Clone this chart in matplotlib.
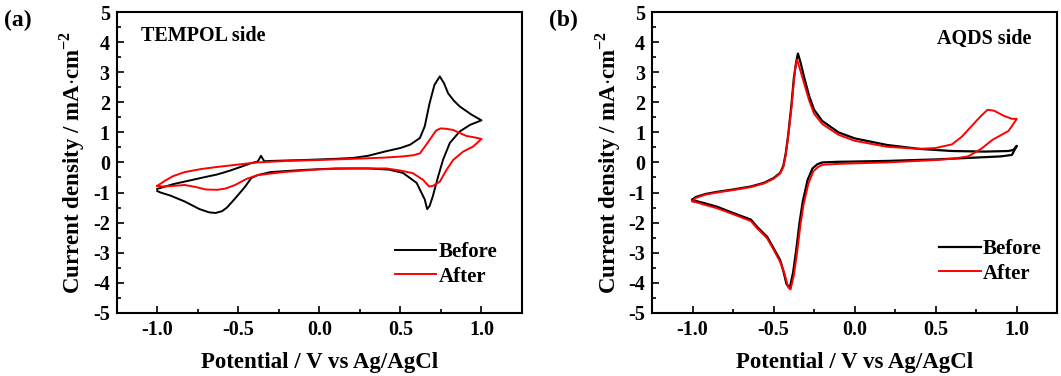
import numpy as np
import matplotlib
matplotlib.use('Agg')
import matplotlib.pyplot as plt
from matplotlib.ticker import MultipleLocator

plt.rcParams['font.family'] = 'Liberation Serif'
plt.rcParams['font.weight'] = 'bold'
plt.rcParams['mathtext.fontset'] = 'custom'
plt.rcParams['mathtext.rm'] = 'Liberation Serif:bold'
plt.rcParams['mathtext.bf'] = 'Liberation Serif:bold'

# (a) TEMPOL side - Before (closed CV loop, anodic then cathodic branch)
a_before_E = [-1.0, -0.9, -0.8, -0.7, -0.63, -0.55, -0.47, -0.42, -0.38, -0.36, -0.34, -0.3, -0.1, 0.1, 0.21,
              0.3, 0.41, 0.5, 0.56, 0.62, 0.65, 0.68, 0.71, 0.743, 0.77, 0.794, 0.83, 0.866, 0.938, 1.0,
              0.93, 0.866, 0.805, 0.763, 0.733, 0.70, 0.68, 0.665, 0.65, 0.6, 0.516, 0.43, 0.3, 0.1, -0.1,
              -0.3, -0.38, -0.42, -0.46, -0.52, -0.57, -0.6, -0.64, -0.68, -0.74, -0.83, -0.92, -0.98, -1.0]
a_before_i = [-0.88, -0.72, -0.6, -0.48, -0.4, -0.27, -0.12, -0.02, 0.03, 0.22, 0.04, 0.05, 0.08, 0.12, 0.15,
              0.22, 0.37, 0.48, 0.59, 0.81, 1.2, 1.97, 2.58, 2.86, 2.62, 2.3, 2.05, 1.86, 1.59, 1.4,
              1.25, 1.03, 0.65, 0.09, -0.46, -1.12, -1.45, -1.55, -1.23, -0.68, -0.35, -0.24, -0.2, -0.2, -0.25,
              -0.32, -0.42, -0.52, -0.82, -1.2, -1.5, -1.62, -1.68, -1.66, -1.55, -1.3, -1.1, -1.0, -0.95]

# (a) TEMPOL side - After
a_after_E = [-1.0, -0.95, -0.9, -0.83, -0.73, -0.63, -0.5, -0.38, -0.2, -0.01, 0.21, 0.4, 0.516, 0.58, 0.62,
             0.65, 0.68, 0.72, 0.747, 0.78, 0.825, 0.87, 0.907, 0.96, 1.0,
             0.949, 0.887, 0.825, 0.784, 0.743, 0.70, 0.677, 0.64, 0.578, 0.5, 0.414, 0.2, 0.0, -0.22,
             -0.38, -0.45, -0.52, -0.58, -0.63, -0.7, -0.76, -0.83, -0.9, -0.97, -1.0]
a_after_i = [-0.78, -0.6, -0.45, -0.32, -0.22, -0.15, -0.07, 0.0, 0.05, 0.08, 0.12, 0.16, 0.2, 0.24, 0.3,
             0.52, 0.75, 1.06, 1.13, 1.12, 1.08, 0.97, 0.88, 0.83, 0.78,
             0.53, 0.36, 0.08, -0.25, -0.64, -0.78, -0.8, -0.58, -0.36, -0.27, -0.2, -0.2, -0.23, -0.32,
             -0.42, -0.55, -0.75, -0.87, -0.91, -0.9, -0.82, -0.75, -0.78, -0.8, -0.78]

# (b) AQDS side - Before
b_before_E = [-1.0, -0.98, -0.92, -0.85, -0.75, -0.64, -0.56, -0.5, -0.46, -0.44, -0.425, -0.41, -0.39, -0.375,
              -0.36, -0.35, -0.335, -0.31, -0.28, -0.25, -0.2, -0.1, 0.0, 0.2, 0.4, 0.6, 0.8, 0.95, 0.98, 1.0,
              0.97, 0.9, 0.7, 0.5, 0.2, 0.0, -0.11, -0.2, -0.23, -0.26, -0.29, -0.32, -0.34, -0.36, -0.38, -0.4,
              -0.42, -0.44, -0.46, -0.5, -0.54, -0.6, -0.64, -0.75, -0.85, -0.93, -0.98, -1.0]
b_before_i = [-1.23, -1.15, -1.05, -0.98, -0.9, -0.8, -0.68, -0.52, -0.35, -0.12, 0.3, 0.9, 1.9, 2.8,
              3.35, 3.62, 3.35, 2.8, 2.2, 1.75, 1.38, 1.0, 0.8, 0.58, 0.45, 0.38, 0.36, 0.38, 0.42, 0.55,
              0.25, 0.2, 0.15, 0.1, 0.05, 0.03, 0.02, 0.0, -0.06, -0.2, -0.58, -1.3, -2.0, -2.9, -3.67, -4.17,
              -4.05, -3.6, -3.24, -2.85, -2.47, -2.15, -1.9, -1.68, -1.47, -1.35, -1.28, -1.25]

# (b) AQDS side - After
b_after_E = [-1.0, -0.98, -0.92, -0.85, -0.75, -0.64, -0.56, -0.5, -0.46, -0.44, -0.425, -0.41, -0.39, -0.375,
             -0.365, -0.355, -0.34, -0.31, -0.28, -0.25, -0.2, -0.1, 0.0, 0.2, 0.4, 0.5, 0.6, 0.66, 0.72, 0.78,
             0.82, 0.86, 0.92, 0.97, 1.0,
             0.95, 0.85, 0.78, 0.7, 0.6, 0.5, 0.2, 0.0, -0.11, -0.2, -0.225, -0.255, -0.285, -0.315, -0.335,
             -0.355, -0.375, -0.395, -0.41, -0.435, -0.46, -0.5, -0.54, -0.6, -0.64, -0.75, -0.85, -0.93,
             -0.98, -1.0]
b_after_i = [-1.28, -1.18, -1.07, -1.0, -0.92, -0.82, -0.7, -0.54, -0.37, -0.15, 0.25, 0.85, 1.8, 2.7,
             3.2, 3.42, 3.15, 2.6, 2.05, 1.62, 1.28, 0.92, 0.72, 0.52, 0.45, 0.48, 0.6, 0.85, 1.2, 1.55,
             1.75, 1.72, 1.55, 1.45, 1.45,
             1.05, 0.75, 0.45, 0.2, 0.12, 0.08, 0.0, -0.03, -0.05, -0.08, -0.15, -0.3, -0.7, -1.4, -2.1,
             -3.0, -3.75, -4.22, -4.15, -3.65, -3.3, -2.9, -2.52, -2.2, -1.95, -1.72, -1.52, -1.4, -1.32, -1.3]

fig = plt.figure(figsize=(10.61, 3.76), dpi=100)
ax1 = fig.add_axes([0.110, 0.168, 0.382, 0.800])
ax2 = fig.add_axes([0.6145, 0.168, 0.382, 0.800])

ax1.plot(a_before_E, a_before_i, color='black', lw=1.4, label='Before')
ax1.plot(a_after_E, a_after_i, color='red', lw=1.4, label='After')
ax2.plot(b_before_E, b_before_i, color='black', lw=1.6, label='Before')
ax2.plot(b_after_E, b_after_i, color='red', lw=1.4, label='After')

for ax in (ax1, ax2):
    ax.set_xlim(-1.25, 1.25)
    ax.set_ylim(-5, 5)
    ax.xaxis.set_major_locator(MultipleLocator(0.5))
    ax.xaxis.set_minor_locator(MultipleLocator(0.25))
    ax.yaxis.set_major_locator(MultipleLocator(1))
    ax.yaxis.set_minor_locator(MultipleLocator(0.5))
    ax.tick_params(which='both', direction='in', top=False, right=False, labelsize=14.5, width=1.2)
    ax.tick_params(which='major', length=5, pad=5)
    ax.tick_params(which='minor', length=3)
    ax.set_xticks([-1.0, -0.5, 0.0, 0.5, 1.0])
    ax.set_xticklabels(['-1.0', '-0.5', '0.0', '0.5', '1.0'])
    ax.set_yticks(range(-5, 6))
    ax.set_yticklabels([str(v) for v in range(-5, 6)])
    for s in ax.spines.values():
        s.set_linewidth(1.5)
    ax.set_xlabel('Potential / V vs Ag/AgCl', fontsize=16.5, fontweight='bold', labelpad=9)
    ax.set_ylabel(r'Current density / mA$\cdot$cm$^{-2}$', fontsize=16.5, fontweight='bold', labelpad=4)

ax1.legend(loc='lower right', frameon=False, fontsize=15, handlelength=2.0, handletextpad=0.1,
           labelspacing=0.2, bbox_to_anchor=(0.985, 0.025))
ax2.legend(loc='lower right', frameon=False, fontsize=15, handlelength=2.0, handletextpad=0.1,
           labelspacing=0.2, bbox_to_anchor=(1.008, 0.035))

ax1.text(0.06, 0.955, 'TEMPOL side', transform=ax1.transAxes, fontsize=14.5, fontweight='bold', va='top')
ax2.text(0.935, 0.945, 'AQDS side', transform=ax2.transAxes, fontsize=14.5, fontweight='bold', va='top', ha='right')

fig.text(0.004, 0.945, '(a)', fontsize=17, fontweight='bold', va='center')
fig.text(0.517, 0.945, '(b)', fontsize=17, fontweight='bold', va='center')

plt.savefig('out.png', dpi=100)
